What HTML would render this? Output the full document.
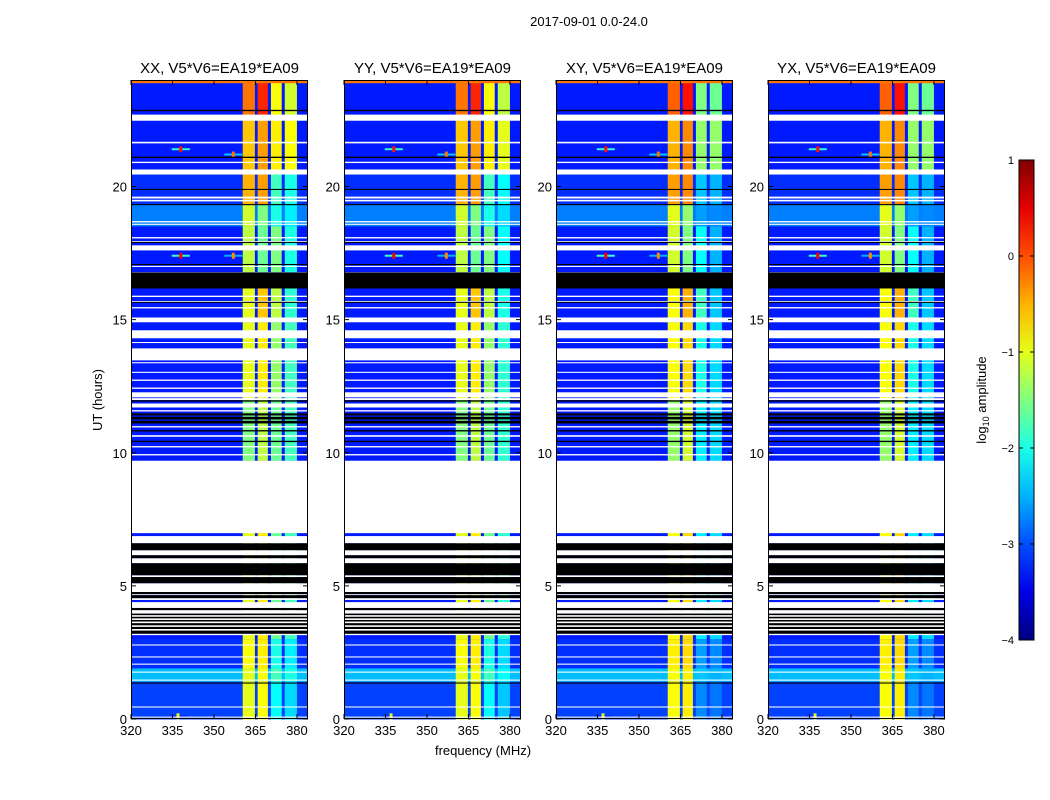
<!DOCTYPE html>
<html><head><meta charset="utf-8">
<style>
body{margin:0;background:#fff;}
svg{display:block;font-family:"Liberation Sans",sans-serif;}
</style></head><body>
<svg id="fig" width="1050" height="800" viewBox="0 0 1050 800"></svg>
<script>
// ---- data ----
const panelTitles = ["XX, V5*V6=EA19*EA09","YY, V5*V6=EA19*EA09","XY, V5*V6=EA19*EA09","YX, V5*V6=EA19*EA09"];
const xTicks = [320,335,350,365,380];
const yTicks = [0,5,10,15,20];
const cbTicks = [1,0,-1,-2,-3,-4];
const bandFreqs = [[360.4,364.8],[365.8,369.5],[370.6,374.5],[375.6,380]];
// segments: [tStart, tEnd]
const segTimes = [[22.7,23.9],[20.6,22.7],[19.3,20.6],[18.5,19.3],[16.8,18.5],[14.9,16.2],[12,14.9],[9.7,12],[3,9.7],[1.9,3],[1.4,1.9],[0,1.4]];
const segBg = [-3.25,-3.25,-3.15,-2.75,-3.25,-3.25,-3.25,-3.25,-3.25,-3.15,-2.45,-3.05];
const segBands = [[-0.2,0.2,-0.9,-1.1],[-0.6,-0.4,-0.8,-0.9],[-0.5,-0.4,-1.8,-2],[-1.1,-1.5,-2,-2.2],[-1.2,-1.6,-1.5,-2],[-1,-0.6,-1.2,-1.9],[-1,-0.8,-1.4,-1.8],[-1.5,-1.2,-1.6,-1.8],[-1,-0.8,-1.6,-1.8],[-0.9,-0.8,-2,-2.2],[-1,-0.9,-1.8,-2],[-1,-0.9,-2.1,-2.3]];
// per-panel offsets to band levels
const panelBandOffset = [[0,0,0,0],[0,0,0,-0.1],[0.1,0.1,-0.6,-0.5],[0.1,0.1,-0.6,-0.5]];
const topRow = [23.88,24.0,-0.2];
const whiteFlags = [[22.47,22.7],[21.62,21.68],[20.88,20.93],[20.45,20.64],[19.55,19.62],[19.44,19.5],[18.65,18.7],[18.56,18.6],[18.05,18.1],[17.9,17.95],[17.6,17.79],[16.98,17.02],[15.85,15.9],[15.66,15.7],[15.42,15.47],[14.9,15.08],[14.3,14.6],[14.12,14.16],[13.47,13.92],[13.36,13.4],[13.0,13.04],[12.7,12.75],[12.4,12.45],[12.08,12.27],[11.98,12.05],[11.7,11.85],[11.55,11.6],[10.95,11.0],[10.6,10.66],[10.2,10.25],[9.9,9.95],[6.98,9.7],[6.6,6.87],[6.15,6.34],[5.85,6.04],[5.33,5.4],[4.77,5.1],[4.65,4.69],[4.47,4.54],[4.17,4.39],[3.15,4.09],[2.76,2.8],[2.31,2.35],[2.04,2.08],[1.74,1.78],[1.44,1.48],[0.43,0.47],[0.05,0.09]];
const blackFlags = [[22.83,22.88],[21.07,21.12],[19.87,19.91],[19.3,19.34],[17.88,17.92],[17.05,17.09],[16.17,16.77],[15.63,15.67],[11.92,11.97],[11.1,11.2],[11.25,11.35],[11.4,11.48],[10.8,10.85],[10.4,10.45],[6.34,6.6],[6.04,6.15],[5.4,5.85],[5.1,5.33],[4.69,4.77],[4.54,4.65],[4.09,4.17],[3.9,3.96],[3.78,3.84],[3.66,3.72],[3.52,3.6],[3.38,3.46],[3.2,3.32],[1.33,1.37]];
const rfiFreq = [338,338,357,357,337];
const rfiTime = [21.4,17.4,21.2,17.4,0.1];
const rfiLevel = [0.3,0.4,-0.2,-0.3,-1];

// ---- helpers ----
const NS="http://www.w3.org/2000/svg";
const svg=document.getElementById('fig');
function mk(tag,attrs,parent){const e=document.createElementNS(NS,tag);for(const k in attrs)e.setAttribute(k,attrs[k]);(parent||svg).appendChild(e);return e;}
function jet(v){let x=(v+4)/5;x=Math.max(0,Math.min(1,x));
 const c=t=>Math.round(255*Math.max(0,Math.min(1,1.5-Math.abs(4*x-t))));
 return `rgb(${c(3)},${c(2)},${c(1)})`;}
const panelLeft=[131,344,556,768], PW=177, PT=80, PB=719;
const xMin=320,xMax=384,tMax=24;

panelLeft.forEach((L,p)=>{
 const xs=f=>L+(f-xMin)/(xMax-xMin)*PW;
 const ys=t=>PB-(t/tMax)*(PB-PT);
 const g=mk('g',{});
 
 
 segTimes.forEach((s,i)=>{
  const r=mk('rect',{x:L,y:ys(s[1]),width:PW,height:ys(s[0])-ys(s[1])+0.5,fill:jet(segBg[i])},g);
  
  
  bandFreqs.forEach((b,j)=>{
   const br=mk('rect',{x:xs(b[0]),y:ys(s[1]),width:xs(b[1])-xs(b[0]),height:ys(s[0])-ys(s[1])+0.5,fill:jet(segBands[i][j]+panelBandOffset[p][j])},g);
   
   
  });
 });
 const tr=mk('rect',{x:L,y:ys(topRow[1]),width:PW,height:ys(topRow[0])-ys(topRow[1]),fill:jet(topRow[2])},g);
 
 
 rfiFreq.forEach((f,i)=>{
  const st=mk('rect',{x:xs(f)-9,y:ys(rfiTime[i])-1,width:18,height:2,fill:jet(rfiLevel[i]-2.2)},g);
  
  
  const d=mk('rect',{x:xs(f)-1.5,y:ys(rfiTime[i])-3,width:3,height:6,fill:jet(rfiLevel[i])},g);
  
  
 });
 whiteFlags.forEach(w=>{
  const r=mk('rect',{x:L,y:ys(w[1]),width:PW,height:Math.max(1,ys(w[0])-ys(w[1])),fill:'#fff'},g);
  
  
 });
 blackFlags.forEach(w=>{
  const r=mk('rect',{x:L,y:ys(w[1]),width:PW,height:Math.max(1,ys(w[0])-ys(w[1])),fill:'#000'},g);
  
  
 });
 const fr=mk('rect',{x:L+0.5,y:PT+0.5,width:PW-1,height:PB-PT-1,fill:'none',stroke:'#000','stroke-width':1},g);
 
 
 xTicks.forEach(v=>{
  const x=xs(v);
  mk('line',{x1:x,y1:PB,x2:x,y2:PB-5,stroke:'#000'},g);
  mk('line',{x1:x,y1:PT,x2:x,y2:PT+5,stroke:'#000'},g);
  const t=mk('text',{x:x,y:PB+16,'text-anchor':'middle','font-size':13},g);
  t.textContent=v;
  
  
 });
 yTicks.forEach(v=>{
  const y=ys(v);
  mk('line',{x1:L,y1:y,x2:L+5,y2:y,stroke:'#000'},g);
  mk('line',{x1:L+PW,y1:y,x2:L+PW-5,y2:y,stroke:'#000'},g);
  const t=mk('text',{x:L-4,y:y+5,'text-anchor':'end','font-size':13},g);
  t.textContent=v;
  
  
 });
 const tt=mk('text',{x:L+PW/2,y:73,'text-anchor':'middle','font-size':15},g);
 tt.textContent=panelTitles[p];
 
 
});

// colorbar
const cbX=1019,cbW=15,cbTop=160,cbBot=640;
const defs=mk('defs',{});
const lg=mk('linearGradient',{id:'jetg',x1:0,y1:1,x2:0,y2:0},defs);
for(let i=0;i<=10;i++){mk('stop',{offset:i/10,'stop-color':jet(-4+i/2)},lg);}
const cb=mk('rect',{x:cbX,y:cbTop,width:cbW,height:cbBot-cbTop,fill:'url(#jetg)',stroke:'#000'});


cbTicks.forEach(v=>{
 const y=cbBot-(v+4)/5*(cbBot-cbTop);
 mk('line',{x1:cbX,y1:y,x2:cbX+4,y2:y,stroke:'#000'});
 mk('line',{x1:cbX+cbW,y1:y,x2:cbX+cbW-4,y2:y,stroke:'#000'});
 const t=mk('text',{x:1014,y:y+4,'text-anchor':'end','font-size':11});
 t.textContent=(v<0?'\u2212'+(-v):v);
 
 
});
</script>
<svg style="position:absolute;left:0;top:0" width="1050" height="800">
<text x="589" y="26" text-anchor="middle" font-size="13" font-family="Liberation Sans,sans-serif">2017-09-01 0.0-24.0</text>
<text x="102" y="400" text-anchor="middle" font-size="13" font-family="Liberation Sans,sans-serif" transform="rotate(-90 102 400)">UT (hours)</text>
<text x="483" y="755" text-anchor="middle" font-size="13" font-family="Liberation Sans,sans-serif">frequency (MHz)</text>
<text x="986" y="400" text-anchor="middle" font-size="13" font-family="Liberation Sans,sans-serif" transform="rotate(-90 986 400)">log<tspan font-size="9" dy="3">10</tspan><tspan dy="-3"> amplitude</tspan></text>
</svg>
</body></html>
